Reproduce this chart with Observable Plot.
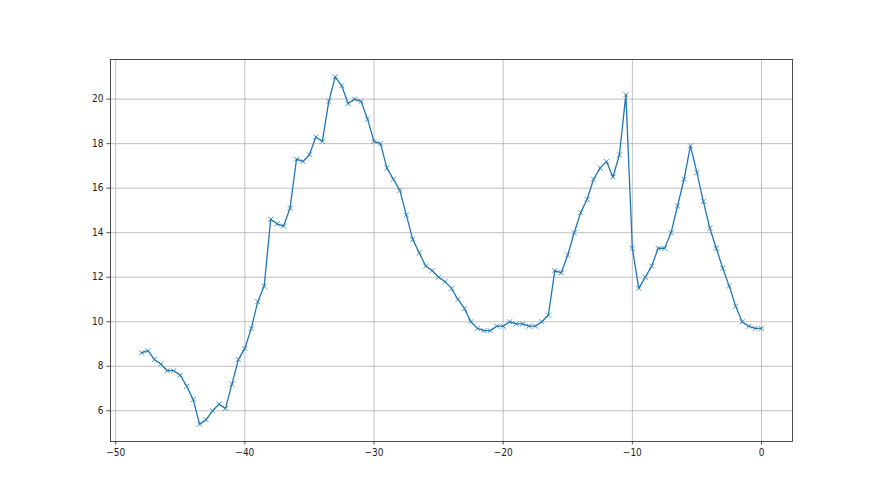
<!DOCTYPE html>
<html>
<head>
<meta charset="utf-8">
<script src="https://cdn.jsdelivr.net/npm/d3@7"></script>
<script src="https://cdn.jsdelivr.net/npm/@observablehq/plot@0.6"></script>
<style>
  html, body { margin: 0; padding: 0; background: #fff; }
  #chart svg { display: block; }
</style>
</head>
<body>
<div id="chart"></div>
<script>
// x positions: -48 .. 0 in steps of 0.5
const xValues = [
  -48, -47.5, -47, -46.5, -46, -45.5, -45, -44.5, -44, -43.5,
  -43, -42.5, -42, -41.5, -41, -40.5, -40, -39.5, -39, -38.5,
  -38, -37.5, -37, -36.5, -36, -35.5, -35, -34.5, -34, -33.5,
  -33, -32.5, -32, -31.5, -31, -30.5, -30, -29.5, -29, -28.5,
  -28, -27.5, -27, -26.5, -26, -25.5, -25, -24.5, -24, -23.5,
  -23, -22.5, -22, -21.5, -21, -20.5, -20, -19.5, -19, -18.5,
  -18, -17.5, -17, -16.5, -16, -15.5, -15, -14.5, -14, -13.5,
  -13, -12.5, -12, -11.5, -11, -10.5, -10, -9.5, -9, -8.5,
  -8, -7.5, -7, -6.5, -6, -5.5, -5, -4.5, -4, -3.5,
  -3, -2.5, -2, -1.5, -1, -0.5, 0
];
const yValues = [
  8.6, 8.7, 8.3, 8.1, 7.8, 7.8, 7.6, 7.1, 6.5, 5.4,
  5.6, 6.0, 6.3, 6.1, 7.2, 8.3, 8.8, 9.7, 10.9, 11.6,
  14.6, 14.4, 14.3, 15.1, 17.3, 17.2, 17.5, 18.3, 18.1, 19.9,
  21.0, 20.6, 19.8, 20.0, 19.9, 19.1, 18.1, 18.0, 16.9, 16.4,
  15.9, 14.8, 13.7, 13.1, 12.5, 12.3, 12.0, 11.8, 11.5, 11.0,
  10.6, 10.0, 9.7, 9.6, 9.6, 9.8, 9.8, 10.0, 9.9, 9.9,
  9.8, 9.8, 10.0, 10.3, 12.3, 12.2, 13.0, 14.0, 14.9, 15.5,
  16.4, 16.9, 17.2, 16.5, 17.5, 20.2, 13.3, 11.5, 12.0, 12.5,
  13.3, 13.3, 14.0, 15.2, 16.4, 17.9, 16.7, 15.4, 14.2, 13.3,
  12.4, 11.6, 10.7, 10.0, 9.8, 9.7, 9.7
];
const xTicks = [-50, -40, -30, -20, -10, 0];
const yTicks = [6, 8, 10, 12, 14, 16, 18, 20];

const data = xValues.map((x, i) => ({x, y: yValues[i]}));

function padDomain(vals) {
  const [lo, hi] = d3.extent(vals);
  const p = (hi - lo) * 0.05;
  return [lo - p, hi + p];
}
const fmt = d => d < 0 ? "\u2212" + (-d) : String(d);

const chart = Plot.plot({
  width: 880,
  height: 495,
  marginLeft: 110,
  marginRight: 88,
  marginTop: 59,
  marginBottom: 54,
  style: {fontFamily: "'Liberation Sans Narrow', 'DejaVu Sans Condensed', sans-serif", fontSize: "10px", background: "#fff", color: "#222"},
  x: {domain: padDomain(xValues)},
  y: {domain: padDomain(yValues)},
  marks: [
    Plot.gridX(xTicks, {stroke: "#b0b0b0", strokeOpacity: 1, strokeWidth: 0.8}),
    Plot.gridY(yTicks, {stroke: "#b0b0b0", strokeOpacity: 1, strokeWidth: 0.8}),
    Plot.line(data, {x: "x", y: "y", stroke: "#1f77b4", strokeWidth: 1.3}),
    Plot.dot(data, {x: "x", y: "y", symbol: "times", r: 2.4, stroke: "#1f77b4", strokeWidth: 0.9, strokeOpacity: 0.85}),
    Plot.axisX(xTicks, {tickSize: 3.5, tickPadding: 3.5, tickFormat: fmt, label: null, strokeWidth: 0.8, fontSize: 10}),
    Plot.axisY(yTicks, {tickSize: 3.5, tickPadding: 3.5, tickFormat: fmt, label: null, strokeWidth: 0.8, fontSize: 10}),
    Plot.frame({stroke: "#222", strokeWidth: 0.8})
  ]
});
document.getElementById("chart").appendChild(chart);
</script>
</body>
</html>
